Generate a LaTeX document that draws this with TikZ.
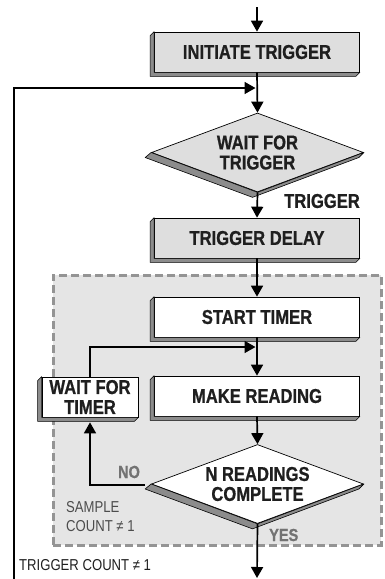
\documentclass[tikz,border=0pt]{standalone}
\usepackage{fontspec}
\setmainfont[FakeStretch=0.83,BoldFeatures={FakeBold=0.8}]{Liberation Sans}
\usetikzlibrary{shapes.geometric,arrows.meta,calc}
\newcommand\myboxshade[1]{\draw[shade3d] (#1.north west) -- ++(-4,4) -- ($(#1.south west)+(-4,4)$) -- ($(#1.south east)+(-4,4)$) -- (#1.south east) -- (#1.south west) -- cycle;}
\newcommand\mydiashade[1]{\draw[shade3d] (#1.west) -- ($(#1.west)+(-6,5)$) -- ($(#1.south)+(-5,5)$) -- ($(#1.east)+(-5,5)$) -- (#1.east) -- (#1.south) -- cycle;}
\begin{document}
\begin{tikzpicture}[x=1pt,y=-1pt,
  flow/.style={line width=1.7pt,-{Triangle[length=11pt,width=12pt]}},
  shade3d/.style={fill=black!45,draw=black,line width=0.6pt,line join=round},
  boxbase/.style={rectangle,draw,line width=0.7pt,minimum width=205pt,minimum height=40pt,inner sep=0pt,
    font=\fontsize{20}{20}\selectfont\bfseries,text=black!88,align=center},
  graybox/.style={boxbase,fill=black!13},
  whitebox/.style={boxbase,fill=white},
  diabase/.style={diamond,draw,line width=0.7pt,minimum width=212pt,minimum height=79pt,inner sep=0pt,aspect=2.7,
    font=\fontsize{20}{20}\selectfont\bfseries,text=black!88,align=center},
  lbl/.style={inner sep=0pt,font=\fontsize{20}{20}\selectfont\bfseries,text=black!88},
  graylbl/.style={inner sep=0pt,font=\fontsize{17.5}{18}\selectfont\bfseries,text=black!55},
  smalllbl/.style={inner sep=0pt,font=\fontsize{15.8}{19}\selectfont,align=left}
]
\useasboundingbox (0,0) rectangle (384,579);
% dashed region
\node[draw=black!42,fill=black!10,line width=3pt,dash pattern=on 8pt off 4pt,minimum width=328pt,minimum height=270pt,inner sep=0pt] (region) at (217,410) {};
% coordinates
\coordinate (top) at (257,7);
\coordinate (bot) at (257,578);
\coordinate (fbstart) at (14,579);
\coordinate (fbjoin) at (257,88);
\coordinate (lpjoin) at (257,347);
% nodes
\node[graybox] (init) at (257,52) {INITIATE TRIGGER};
\node[diabase,fill=black!13] (wait) at (257.5,152.5) {WAIT FOR\\TRIGGER};
\node[graybox] (delay) at (257,238) {TRIGGER DELAY};
\node[whitebox] (start) at (257,317) {START TIMER};
\node[whitebox] (make) at (257,396) {MAKE READING};
\node[whitebox,minimum width=96pt,minimum height=40pt] (wt) at (90,397) {WAIT FOR\\TIMER};
\node[diabase,fill=white] (nread) at (257.5,484) {N READINGS\\COMPLETE};
% 3d extrusions
\myboxshade{init}
\myboxshade{delay}
\myboxshade{start}
\myboxshade{make}
\myboxshade{wt}
\mydiashade{wait}
\mydiashade{nread}
% connectors
\draw[flow] (top) -- (init.north);
\draw[flow] (init.south) -- (wait.north);
\draw[flow,shorten >=1.5pt] (fbstart) |- (fbjoin);
\draw[flow] (wait.south) -- (delay.north);
\draw[flow] (delay.south) -- (start.north);
\draw[flow] (start.south) -- (make.north);
\draw[flow,shorten >=1.5pt] (wt.north) |- (lpjoin);
\draw[flow] (make.south) -- (nread.north);
\draw[flow] ([xshift=-6pt,yshift=-1pt]nread.west) -| ([yshift=-5pt]wt.south);
\draw[flow] (nread.south) -- (bot);
% labels
\node[lbl,anchor=east] (trig) at (360,201) {TRIGGER};
\node[graylbl] (no) at (129,472) {NO};
\node[graylbl,anchor=west] (yes) at (269,535) {YES};
\node[smalllbl,anchor=west,text=black!70] (sc) at (66,517) {SAMPLE\\COUNT ≠ 1};
\node[smalllbl,anchor=west,text=black!88] (tc) at (19,565) {TRIGGER COUNT ≠ 1};
\end{tikzpicture}
\end{document}
